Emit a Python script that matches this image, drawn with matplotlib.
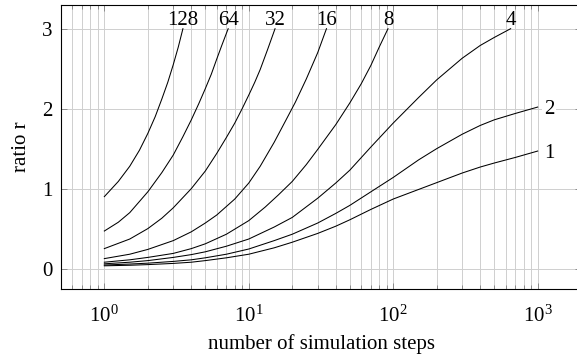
import matplotlib
matplotlib.use('Agg')
import matplotlib.pyplot as plt

# curves: ratio r over number of simulation steps, one curve per parameter
labels = ['128', '64', '32', '16', '8', '4', '2', '1']

steps_128 = [1, 1.25, 1.5, 1.75, 2, 2.25, 2.5, 2.75, 3, 3.25, 3.5]
r_128 = [0.90, 1.09, 1.28, 1.48, 1.69, 1.90, 2.12, 2.33, 2.55, 2.77, 3.0]

steps_64 = [1, 1.25, 1.5, 2, 2.5, 3, 3.5, 4, 4.5, 5, 5.5, 6, 6.5, 7.2]
r_64 = [0.47, 0.58, 0.70, 0.96, 1.20, 1.42, 1.65, 1.86, 2.06, 2.25, 2.43, 2.62, 2.79, 3.0]

steps_32 = [1, 1.5, 2, 2.5, 3, 4, 5, 6, 7, 8, 9, 10, 11, 12, 13.5, 15.2]
r_32 = [0.25, 0.37, 0.50, 0.63, 0.76, 1.0, 1.22, 1.44, 1.64, 1.82, 2.0, 2.17, 2.33, 2.49, 2.74, 3.0]

steps_16 = [1, 1.5, 2, 3, 4, 5, 6, 8, 10, 12, 15, 18, 21, 25, 30, 34.5]
r_16 = [0.125, 0.18, 0.24, 0.35, 0.46, 0.57, 0.67, 0.87, 1.07, 1.28, 1.58, 1.85, 2.08, 2.37, 2.70, 3.0]

steps_8 = [1, 1.5, 2, 3, 4, 5, 7, 10, 13, 16, 20, 25, 30, 40, 50, 60, 70, 80, 92]
r_8 = [0.08, 0.11, 0.14, 0.19, 0.25, 0.31, 0.43, 0.60, 0.77, 0.92, 1.09, 1.30, 1.49, 1.80, 2.07,
       2.31, 2.54, 2.77, 3.0]

steps_4 = [1, 1.5, 2, 3, 4, 5, 7, 10, 15, 20, 30, 40, 50, 70, 100, 150, 200, 300, 400, 500, 650]
r_4 = [0.06, 0.08, 0.10, 0.14, 0.175, 0.21, 0.28, 0.37, 0.52, 0.64, 0.88, 1.07, 1.23, 1.52, 1.82,
       2.14, 2.36, 2.63, 2.79, 2.89, 3.0]

steps_2 = [1, 1.5, 2, 3, 4, 5, 7, 10, 15, 20, 30, 40, 50, 70, 100, 150, 200, 300, 400, 500, 700, 1000]
r_2 = [0.045, 0.057, 0.068, 0.09, 0.11, 0.135, 0.18, 0.245, 0.35, 0.43, 0.57, 0.69, 0.79, 0.96,
       1.14, 1.36, 1.50, 1.68, 1.79, 1.86, 1.94, 2.02]

steps_1 = [1, 1.5, 2, 3, 4, 5, 7, 10, 15, 20, 30, 40, 50, 70, 100, 150, 200, 300, 400, 500, 700, 1000]
r_1 = [0.035, 0.042, 0.05, 0.065, 0.08, 0.10, 0.135, 0.18, 0.26, 0.33, 0.44, 0.53, 0.61, 0.74,
       0.87, 0.99, 1.075, 1.195, 1.27, 1.32, 1.39, 1.47]

steps = [steps_128, steps_64, steps_32, steps_16, steps_8, steps_4, steps_2, steps_1]
ratios = [r_128, r_64, r_32, r_16, r_8, r_4, r_2, r_1]

# fonts (Times-like)
plt.rcParams['font.family'] = ['Liberation Serif', 'DejaVu Serif']
plt.rcParams['mathtext.fontset'] = 'custom'
plt.rcParams['mathtext.rm'] = 'Liberation Serif'
plt.rcParams['mathtext.it'] = 'Liberation Serif:italic'
plt.rcParams['font.size'] = 15

W, H = 577, 356
fig = plt.figure(figsize=(W/100, H/100), dpi=100)
# axes box in pixels: left 61, right 581 (cut off), top 4.7, bottom 289
ax = fig.add_axes([61/W, (H-289)/H, (581-61)/W, (289-4.7)/H])

for xs, ys, lab in zip(steps, ratios, labels):
    ax.plot(xs, ys, color='k', lw=0.75)
    if lab in ('2', '1'):
        ax.annotate(lab, (xs[-1], ys[-1]), xytext=(4.5, 0), textcoords='offset points',
                    ha='left', va='center_baseline', fontsize=15,
                    bbox=dict(facecolor='white', edgecolor='none', pad=1.5))
    else:
        ax.annotate(lab, (xs[-1], ys[-1]), xytext=(0, 3), textcoords='offset points',
                    ha='center', va='baseline', fontsize=15)

ax.set_xscale('log')
ax.set_xlim(10**-0.3, 10**3.3)
ax.set_ylim(-0.255, 3.3)
ax.set_yticks([0, 1, 2, 3])

ax.set_axisbelow(True)
ax.grid(which='both', axis='x', color='#cfcfcf', lw=0.7)
ax.grid(which='major', axis='y', color='#cfcfcf', lw=0.7)

ax.tick_params(which='both', direction='in', top=True, right=True, color='#808080')
ax.tick_params(which='major', length=4.5, width=0.6, pad=6, labelsize=15)
ax.tick_params(which='minor', length=3, width=0.6)
ax.tick_params(axis='x', which='major', pad=12)
for s in ax.spines.values():
    s.set_linewidth(0.8)

ax.set_xlabel('number of simulation steps', fontsize=15, labelpad=5)
ax.set_ylabel('ratio r', fontsize=15, labelpad=8)

plt.savefig('out.png', dpi=100)
